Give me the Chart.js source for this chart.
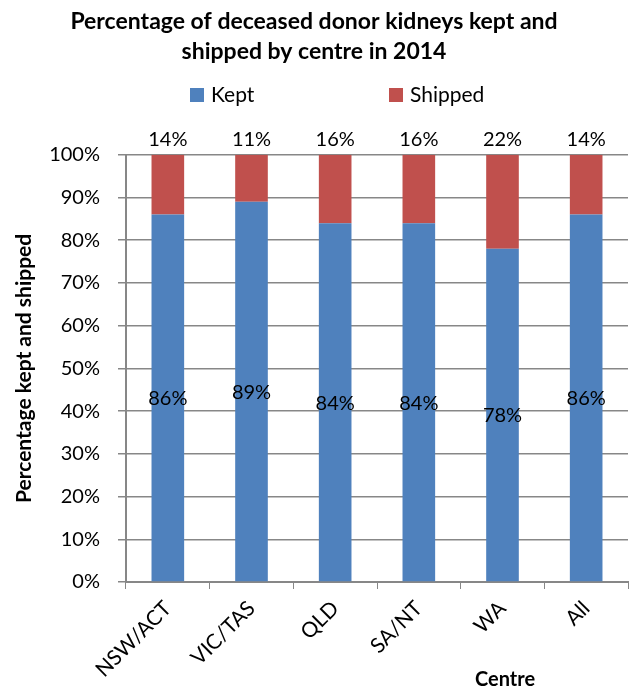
<!DOCTYPE html>
<html>
<head>
<meta charset="utf-8">
<title>Deceased donor kidneys kept and shipped</title>
<script src="https://cdn.jsdelivr.net/npm/chart.js@4.4.0/dist/chart.umd.min.js"></script>
<style>
  html, body { margin: 0; padding: 0; background: #fff; }
  #wrap { width: 634px; height: 694px; }
</style>
</head>
<body>
<div id="wrap"><canvas id="chart" width="634" height="694"></canvas></div>
<script>
// Kidneys kept vs shipped, per centre (%)
const centres = ['NSW/ACT', 'VIC/TAS', 'QLD', 'SA/NT', 'WA', 'All'];
const kept = [86, 89, 84, 84, 78, 86];
const shipped = [14, 11, 16, 16, 22, 14];
const seriesNames = ['Kept', 'Shipped'];

const FONT = 'Lato, "Open Sans", sans-serif';
const GRID = '#878787';
const COLORS = ['#4F81BD', '#C0504D'];

// value labels: kept in the middle of its segment, shipped above the stack
const valueLabels = {
  id: 'valueLabels',
  afterDatasetsDraw(chart){
    const ctx = chart.ctx;
    ctx.save();
    ctx.font = '20px ' + FONT;
    ctx.fillStyle = '#000';
    ctx.textAlign = 'center';
    ctx.textBaseline = 'middle';
    chart.getDatasetMeta(0).data.forEach((bar, i)=>{
      ctx.fillText(kept[i] + '%', bar.x, (bar.y + bar.base) / 2 + 1);
    });
    chart.getDatasetMeta(1).data.forEach((bar, i)=>{
      ctx.fillText(shipped[i] + '%', bar.x, bar.y - 15);
    });
    ctx.restore();
  }
};

// legend row and the x axis caption
const extras = {
  id: 'extras',
  afterDraw(chart){
    const ctx = chart.ctx;
    const mid = chart.width / 2;
    const slots = [mid - 127, mid + 72];
    ctx.save();
    ctx.font = '21px ' + FONT;
    ctx.textBaseline = 'middle';
    ctx.textAlign = 'left';
    chart.data.datasets.forEach((ds, i)=>{
      const x = slots[i];
      ctx.fillStyle = ds.backgroundColor;
      ctx.fillRect(x, 88, 14, 14);
      ctx.fillStyle = '#000';
      ctx.fillText(ds.label, x + 21, 95);
    });
    ctx.font = 'bold 20px ' + FONT;
    ctx.textAlign = 'center';
    ctx.fillText('Centre', chart.chartArea.right - 123, 680);
    ctx.restore();
  }
};

new Chart(document.getElementById('chart').getContext('2d'), {
  type: 'bar',
  data: {
    labels: centres,
    datasets: [
      { label: seriesNames[0], data: kept, backgroundColor: COLORS[0], barPercentage: 0.39, categoryPercentage: 1 },
      { label: seriesNames[1], data: shipped, backgroundColor: COLORS[1], barPercentage: 0.39, categoryPercentage: 1 }
    ]
  },
  options: {
    responsive: false,
    animation: false,
    devicePixelRatio: 1,
    layout: { padding: { left: 0, right: 6, top: 0, bottom: 0 } },
    plugins: {
      legend: { display: false },
      tooltip: { enabled: false },
      title: {
        display: true,
        text: ['Percentage of deceased donor kidneys kept and', 'shipped by centre in 2014'],
        color: '#000',
        font: { family: FONT, size: 23, weight: 'bold', lineHeight: 1.3 },
        padding: { top: 7, bottom: 88 }
      }
    },
    scales: {
      x: {
        stacked: true,
        grid: { display: true, drawOnChartArea: false, drawTicks: true, tickLength: 7, color: GRID, offset: true },
        border: { display: true, color: GRID, width: 2 },
        ticks: { color: '#000', font: { family: FONT, size: 21 }, minRotation: 45, maxRotation: 45, padding: 7, autoSkip: false },
        afterFit(scale){ scale.height = 112; }
      },
      y: {
        stacked: true,
        min: 0,
        max: 100,
        grid: { color: GRID, lineWidth: 1.5, tickLength: 8 },
        border: { display: true, color: GRID, width: 2 },
        ticks: { stepSize: 10, color: '#000', font: { family: FONT, size: 20 }, padding: 18, callback: v => v + '%' },
        title: {
          display: true,
          text: 'Percentage kept and shipped',
          color: '#000',
          font: { family: FONT, size: 21, weight: 'bold' },
          padding: { top: 12, bottom: 0 }
        },
        afterFit(scale){ scale.width = 126; }
      }
    }
  },
  plugins: [valueLabels, extras]
});
</script>
</body>
</html>
